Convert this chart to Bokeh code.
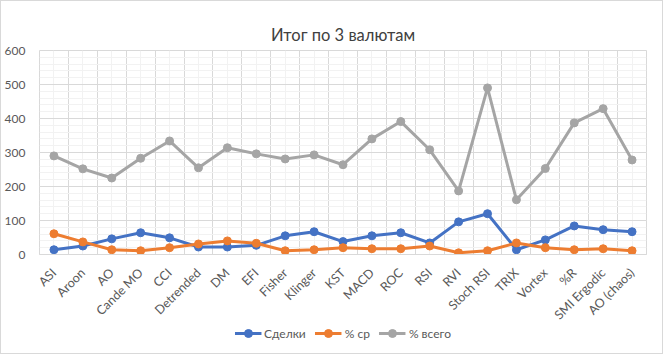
from bokeh.plotting import figure
from bokeh.layouts import column
from bokeh.models import FixedTicker, SingleIntervalTicker, Legend, LegendItem, Range1d, FactorRange
from bokeh.embed import file_html
from bokeh.resources import INLINE

categories = ["ASI", "Aroon", "AO", "Cande MO", "CCI", "Detrended", "DM", "EFI", "Fisher",
              "Klinger", "KST", "MACD", "ROC", "RSI", "RVI", "Stoch RSI", "TRIX", "Vortex",
              "%R", "SMI Ergodic", "AO (chaos)"]
deals = [14, 25, 46, 64, 49, 22, 22, 27, 55, 67, 38, 55, 64, 34, 96, 120, 14, 43, 84, 73, 67]
pct_avg = [61, 37, 14, 11, 20, 31, 40, 33, 11, 14, 20, 17, 17, 25, 5, 11, 34, 20, 14, 17, 11]
pct_total = [290, 252, 225, 283, 334, 255, 314, 296, 281, 293, 264, 340, 391, 308, 187, 490,
             161, 253, 387, 429, 278]
series_names = ["Сделки", "% ср", "% всего"]
colors = ["#4472C4", "#ED7D31", "#A5A5A5"]
FONT = "Lato"
NAN = float("nan")

p = figure(width=661, height=329, x_range=FactorRange(*categories), y_range=Range1d(0, 600),
           output_backend="svg", toolbar_location=None,
           min_border_left=37, min_border_right=16, min_border_top=49, min_border_bottom=57)
p.title.text = "Итог по 3 валютам"
p.title.align = "center"
p.title.vertical_align = "middle"
p.title.text_font = FONT
p.title.text_font_size = "16.5px"
p.title.text_font_style = "normal"
p.title.text_color = "#404040"

p.outline_line_color = "#d9d9d9"

# y axis
p.yaxis.ticker = SingleIntervalTicker(interval=100, num_minor_ticks=5)
p.yaxis.axis_line_color = None
p.yaxis.major_tick_line_color = None
p.yaxis.minor_tick_line_color = None
p.yaxis.major_label_text_font = FONT
p.yaxis.major_label_text_font_size = "12px"
p.yaxis.major_label_text_color = "#595959"
p.yaxis.major_label_standoff = 8

# x axis
p.xaxis.axis_line_color = "#d9d9d9"
p.xaxis.major_tick_line_color = None
p.xaxis.minor_tick_line_color = None
p.xaxis.major_label_orientation = 0.785398
p.xaxis.major_label_text_font = FONT
p.xaxis.major_label_text_font_size = "12.5px"
p.xaxis.major_label_text_color = "#595959"
p.xaxis.major_label_standoff = 10

# grids
p.ygrid.grid_line_color = "#d9d9d9"
p.ygrid.minor_grid_line_color = "#f2f2f2"
n = len(categories)
p.xgrid.ticker = FixedTicker(ticks=list(range(n + 1)), minor_ticks=[i + 0.5 for i in range(n)])
p.xgrid.grid_line_color = "#d9d9d9"
p.xgrid.minor_grid_line_color = "#f2f2f2"

for vals, c in zip([deals, pct_avg, pct_total], colors):
    p.line(categories, vals, line_color=c, line_width=3)
    p.scatter(categories, vals, size=8, fill_color=c, line_color=c)

# legend strip below the chart
pl = figure(width=661, height=40, output_backend="svg", toolbar_location=None,
            x_range=Range1d(0, 1), y_range=Range1d(0, 1), min_border=0)
pl.styles = {"margin-top": "-17px"}
pl.axis.visible = False
pl.grid.visible = False
pl.outline_line_color = None
pl.background_fill_alpha = 0
pl.border_fill_alpha = 0
items = []
for name, c in zip(series_names, colors):
    l = pl.line([NAN], [NAN], line_color=c, line_width=3)
    s = pl.scatter([NAN], [NAN], size=8, fill_color=c, line_color=c)
    items.append(LegendItem(label=name, renderers=[l, s]))
legend = Legend(items=items, orientation="horizontal", location="center",
                border_line_color=None, background_fill_alpha=0,
                label_text_font=FONT, label_text_font_size="12px", label_text_color="#595959",
                glyph_width=27, spacing=9, label_standoff=3, margin=0, padding=2)
pl.add_layout(legend, "center")

layout = column(p, pl, spacing=0)
layout.styles = {"border": "1px solid #d9d9d9"}

open("out.html", "w").write(file_html(layout, INLINE))
